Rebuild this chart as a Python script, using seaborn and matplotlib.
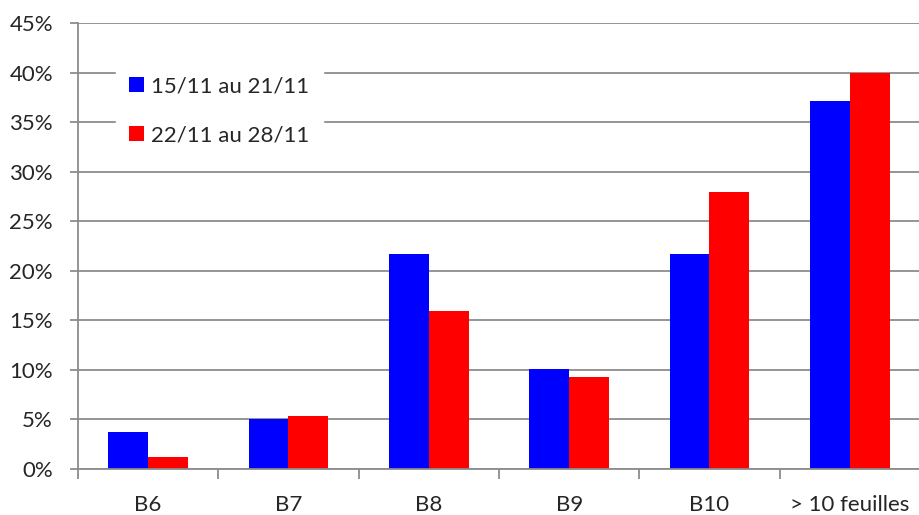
import pandas as pd
import seaborn as sns
import matplotlib.pyplot as plt
from matplotlib.ticker import PercentFormatter, FixedLocator

categories = ['B6', 'B7', 'B8', 'B9', 'B10', '> 10 feuilles']
periods = ['15/11 au 21/11', '22/11 au 28/11']
week1 = [3.7, 5.0, 21.7, 10.1, 21.7, 37.1]
week2 = [1.2, 5.3, 15.9, 9.3, 27.9, 40.0]

df = pd.DataFrame({
    'categorie': categories * 2,
    'periode': [periods[0]] * len(categories) + [periods[1]] * len(categories),
    'valeur': week1 + week2,
})

sns.set_style('white')
plt.rcParams['font.family'] = ['Lato', 'DejaVu Sans']

fig = plt.figure(figsize=(9.2, 5.15), dpi=100)
ax = fig.add_axes([78 / 920, 1 - 469 / 515, 1 - 78 / 920, (469 - 23) / 515])

sns.barplot(data=df, x='categorie', y='valeur', hue='periode', order=categories,
            hue_order=periods, palette=['#0000ff', '#ff0000'], width=0.57,
            saturation=1, linewidth=0, ax=ax)

grey = '#8c8c8c'
ax.set_ylim(0, 45)
ax.set_xlim(-0.5, len(categories) - 0.5)
ax.set_yticks(range(0, 50, 5))
ax.yaxis.set_major_formatter(PercentFormatter(decimals=0))
ax.yaxis.grid(True, color=grey, linewidth=1.3)
ax.set_axisbelow(True)
ax.set_xlabel('')
ax.set_ylabel('')

for side in ['top', 'right']:
    ax.spines[side].set_visible(False)
for side in ['left', 'bottom']:
    ax.spines[side].set_color(grey)
    ax.spines[side].set_linewidth(1.3)

ax.tick_params(axis='y', which='major', left=True, length=6, color=grey, width=1.3,
               labelsize=16, pad=12)
ax.tick_params(axis='x', which='major', length=0, labelsize=16, pad=19)
ax.xaxis.set_minor_locator(FixedLocator([i - 0.5 for i in range(len(categories) + 1)]))
ax.tick_params(axis='x', which='minor', bottom=True, length=7, color=grey, width=1.3)

leg = ax.legend(loc='upper left', bbox_to_anchor=(0.045, 0.91), frameon=True,
                fontsize=16, handlelength=0.65, handleheight=0.65, handletextpad=0.35,
                labelspacing=1.3, borderpad=0.6, borderaxespad=0, fancybox=False)
leg.get_frame().set_facecolor('white')
leg.get_frame().set_edgecolor('white')
leg.get_frame().set_alpha(1)

fig.savefig('out.png', dpi=100)
